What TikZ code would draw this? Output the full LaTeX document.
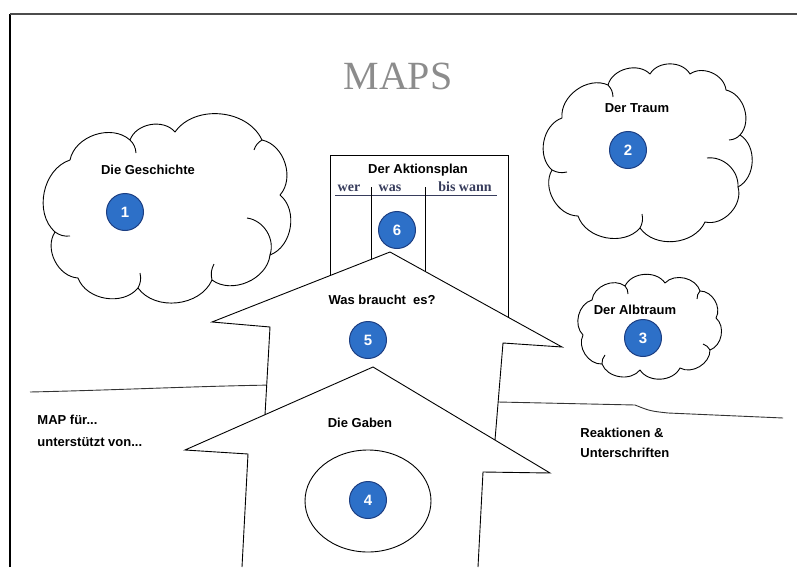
\documentclass[tikz,border=0pt]{standalone}
\usepackage{fontspec}
\setmainfont{Liberation Sans}
\newfontfamily\mapsserif{Liberation Serif}
\usetikzlibrary{shapes.geometric}
\definecolor{numblue}{RGB}{45,112,200}
\definecolor{numedge}{RGB}{28,62,130}
\definecolor{slate}{RGB}{55,60,92}
\begin{document}
\begin{tikzpicture}[x=1pt,y=-1pt, line width=0.9pt,
  lbl/.style={font=\fontsize{13}{15}\selectfont\bfseries, inner sep=0},
  hdr/.style={font=\mapsserif\fontsize{14}{16}\selectfont\bfseries, text=slate, inner sep=0, anchor=base},
  num/.style={circle, fill=numblue, draw=numedge, line width=1pt, minimum size=37pt, inner sep=0, text=white, font=\fontsize{15}{15}\selectfont\bfseries},
  puff/.style={bend left=60},
  cloudline/.style={line width=0.9pt, line join=round},
  edge/.style={line width=0.9pt, line join=miter},
  horizon/.style={line width=0.9pt, black!80}]
\useasboundingbox (0,0) rectangle (797,567);
% frame
\draw[line width=1.2pt] (10,567) -- (10,14);
\draw[line width=1.8pt, black!70] (10,14) -- (797,14);
% title
\node[font=\mapsserif\fontsize{40}{40}\selectfont, text=black!45, inner sep=0] (title) at (398,76) {MAPS};
% cloud 1
\draw[cloudline] (55,232) to[puff] (70,160) to[puff] (130,140) to[puff] (175,132) to[puff] (262,140)
  to[puff] (280,195) to[puff] (270,255) to[puff] (212,280) to[puff] (138,288) to[puff] (78,278) to[puff] cycle;
\draw[cloudline] (130,140) to[bend left=20] (136,153);
\draw[cloudline] (262,140) to[bend right=20] (254,150);
\draw[cloudline] (247,218) to[bend left=50] (270,255);
\draw[cloudline] (212,280) to[bend left=20] (214,264);
\draw[cloudline] (138,288) to[bend right=20] (140,273);
\draw[cloudline] (55,232) to[bend right=20] (70,236);
% cloud 2
\draw[cloudline] (552,170) to[puff] (562,118) to[puff] (608,85) to[puff] (650,74) to[puff] (690,74)
  to[puff] (726,90) to[puff] (740,135) to[puff] (738,187) to[puff] (705,222) to[puff] (640,228) to[puff] (578,216) to[puff] cycle;
\draw[cloudline] (608,85) to[bend left=20] (613,97);
\draw[cloudline] (740,135) to[bend left=20] (729,140);
\draw[cloudline] (707,158) to[bend left=50] (738,187);
\draw[cloudline] (640,228) to[bend right=20] (642,214);
\draw[cloudline] (552,170) to[bend right=20] (567,172);
% cloud 3
\draw[cloudline] (583,335) to[puff] (592,300) to[puff] (625,286) to[puff] (665,283) to[puff] (700,291)
  to[puff] (716,318) to[puff] (710,350) to[puff] (680,368) to[puff] (640,370) to[puff] (602,364) to[puff] cycle;
\draw[cloudline] (625,286) to[bend left=20] (628,294);
\draw[cloudline] (700,291) to[bend right=20] (697,299);
\draw[cloudline] (710,350) to[bend right=20] (703,344);
\draw[cloudline] (602,364) to[bend left=20] (605,355);
\node[lbl] (t1) at (148,170) {Die Geschichte};
\node[num] (n1) at (125,212) {1};
\node[lbl] (t2) at (637,108) {Der Traum};
\node[num] (n2) at (628,150) {2};
\node[lbl] (t3) at (635,310) {Der Albtraum};
\node[num] (n3) at (643,338) {3};
% horizon lines
\coordinate (hl1) at (30,392);
\coordinate (hl2) at (275,385);
\coordinate (hr1) at (498,402);
\coordinate (hr2) at (783,418);
\draw[horizon] (hl1) .. controls (120,390) and (200,386) .. (hl2);
\draw[horizon] (hr1) -- (635,405) .. controls (650,411) .. (668,413) -- (hr2);
% action plan box
\draw[edge] (330,340) -- (330,155) -- (508,155) -- (508,340);
\node[lbl] (tplan) at (418,170) {Der Aktionsplan};
\node[hdr] (wer) at (349,191) {wer};
\node[hdr] (was) at (390,191) {was};
\node[hdr] (bis) at (465,191) {bis wann};
\draw[slate, line width=1.4pt] (335,195.5) -- (497,195.5);
\draw[edge] (371,187) -- (371,280);
\draw[edge] (425,187) -- (425,290);
\node[num] (n6) at (397,230) {6};
% upper arrow (5)
\fill[white] (265,415) -- (270,327) -- (212,322) -- (390,252) -- (562,347) -- (503,343) -- (495,440) -- cycle;
\draw[edge] (265,415) -- (270,327) -- (212,322) -- (390,252) -- (562,347) -- (503,343) -- (495,440);
\node[lbl] (t5) at (382,300) {Was braucht\hspace{7pt}es?};
\node[num] (n5) at (368,340) {5};
% lower arrow (4)
\fill[white] (242,567) -- (248,454) -- (185,450) -- (373,367) -- (550,473) -- (483,472) -- (478,567) -- cycle;
\draw[edge] (242,567) -- (248,454) -- (185,450) -- (373,367) -- (550,473) -- (483,472) -- (478,567);
\node[lbl] (t4) at (360,423) {Die Gaben};
\node[ellipse, draw, line width=0.9pt, minimum width=126pt, minimum height=102pt] (gift) at (368,501) {};
\node[num] (n4) at (368,500) {4};
% side labels
\node[lbl, anchor=west] (map) at (37,420) {MAP für...};
\node[lbl, anchor=west] (sup) at (37,442) {unterstützt von...};
\node[lbl, anchor=west] (rea) at (580,433) {Reaktionen \&};
\node[lbl, anchor=west] (uns) at (580,453) {Unterschriften};
\end{tikzpicture}
\end{document}
